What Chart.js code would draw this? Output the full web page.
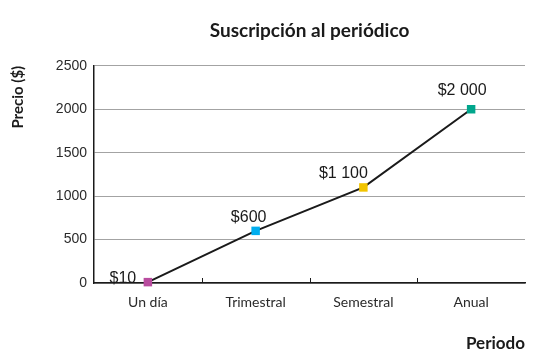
<!DOCTYPE html>
<html>
<head>
<meta charset="utf-8">
<script src="https://cdn.jsdelivr.net/npm/chart.js@4"></script>
<style>
  html, body { margin: 0; padding: 0; background: #fff; }
  #wrap { width: 539px; height: 364px; }
</style>
</head>
<body>
<div id="wrap"><canvas id="c" width="539" height="364"></canvas></div>
<script>
const categories = ["Un día", "Trimestral", "Semestral", "Anual"];
const prices = [10, 600, 1100, 2000];
const priceLabels = ["$10", "$600", "$1 100", "$2 000"];
const pointColors = ["#b94c9f", "#00aeef", "#f2c400", "#00a68c"];
const yTicks = [0, 500, 1000, 1500, 2000, 2500];

const labelOffsets = [[-25, 1], [-7, -9], [-20, -9], [-9, -14]];

const labelPlugin = {
  id: 'valueLabels',
  afterDatasetsDraw(chart) {
    const ctx = chart.ctx;
    const meta = chart.getDatasetMeta(0);
    ctx.save();
    ctx.font = '16px "Liberation Sans", Arial, sans-serif';
    ctx.fillStyle = '#1a1a1a';
    ctx.textAlign = 'center';
    ctx.textBaseline = 'alphabetic';
    meta.data.forEach((pt, i) => {
      const o = labelOffsets[i];
      ctx.fillText(priceLabels[i], pt.x + o[0], pt.y + o[1]);
    });
    ctx.restore();
  }
};

const tickPlugin = {
  id: 'innerTicks',
  afterDraw(chart) {
    const x = chart.scales.x;
    const ctx = chart.ctx;
    const bottom = chart.chartArea.bottom;
    ctx.save();
    ctx.strokeStyle = '#1a1a1a';
    ctx.lineWidth = 1;
    for (let i = 0; i < categories.length - 1; i++) {
      const px = Math.round((x.getPixelForValue(i) + x.getPixelForValue(i + 1)) / 2) + 0.5;
      ctx.beginPath();
      ctx.moveTo(px, bottom);
      ctx.lineTo(px, bottom - 5);
      ctx.stroke();
    }
    ctx.restore();
  }
};

new Chart(document.getElementById('c'), {
  type: 'line',
  data: {
    labels: categories,
    datasets: [{
      data: prices,
      borderColor: '#1a1a1a',
      borderWidth: 2,
      pointStyle: 'rect',
      pointRadius: 6,
      pointHoverRadius: 6,
      pointBackgroundColor: pointColors,
      pointBorderColor: pointColors,
      pointBorderWidth: 0,
      tension: 0,
      clip: false
    }]
  },
  options: {
    responsive: false,
    animation: false,
    events: [],
    layout: { padding: { top: 0, left: 0, right: 14, bottom: 0 } },
    plugins: {
      legend: { display: false },
      tooltip: { enabled: false },
      title: {
        display: true,
        fullSize: false,
        text: 'Suscripción al periódico',
        color: '#1a1a1a',
        font: { family: 'Lato', size: 19, weight: 'bold', lineHeight: 1.2 },
        padding: { top: 19, bottom: 24 }
      }
    },
    scales: {
      x: {
        type: 'category',
        offset: true,
        grid: { display: true, drawOnChartArea: false, drawTicks: false, offset: true },
        border: { display: true, color: '#1a1a1a', width: 1.5 },
        ticks: {
          color: '#2a2a2a',
          padding: 11,
          font: { family: 'Lato', size: 14 }
        },
        title: {
          display: true,
          text: 'Periodo',
          align: 'end',
          color: '#1a1a1a',
          font: { family: 'Lato', size: 17, weight: 'bold', lineHeight: 1.2 },
          padding: { top: 0, bottom: 10 }
        },
        afterFit(scale) { scale.height = 81; }
      },
      y: {
        min: 0,
        max: 2500,
        afterBuildTicks(scale) { scale.ticks = yTicks.map(v => ({ value: v })); },
        grid: { color: '#a3a3a3', lineWidth: 1, drawTicks: false },
        border: { display: true, color: '#1a1a1a', width: 1.5 },
        ticks: {
          color: '#2a2a2a',
          padding: 7,
          font: { family: '"Liberation Sans"', size: 14 },
          callback: (v) => String(v)
        },
        title: {
          display: true,
          text: 'Precio ($)',
          align: 'end',
          color: '#1a1a1a',
          font: { family: 'Lato', size: 15, weight: 'bold', lineHeight: 1.2 },
          padding: { top: 9, bottom: 0 }
        },
        afterFit(scale) { scale.width = 94; }
      }
    }
  },
  plugins: [labelPlugin, tickPlugin]
});
</script>
</body>
</html>
